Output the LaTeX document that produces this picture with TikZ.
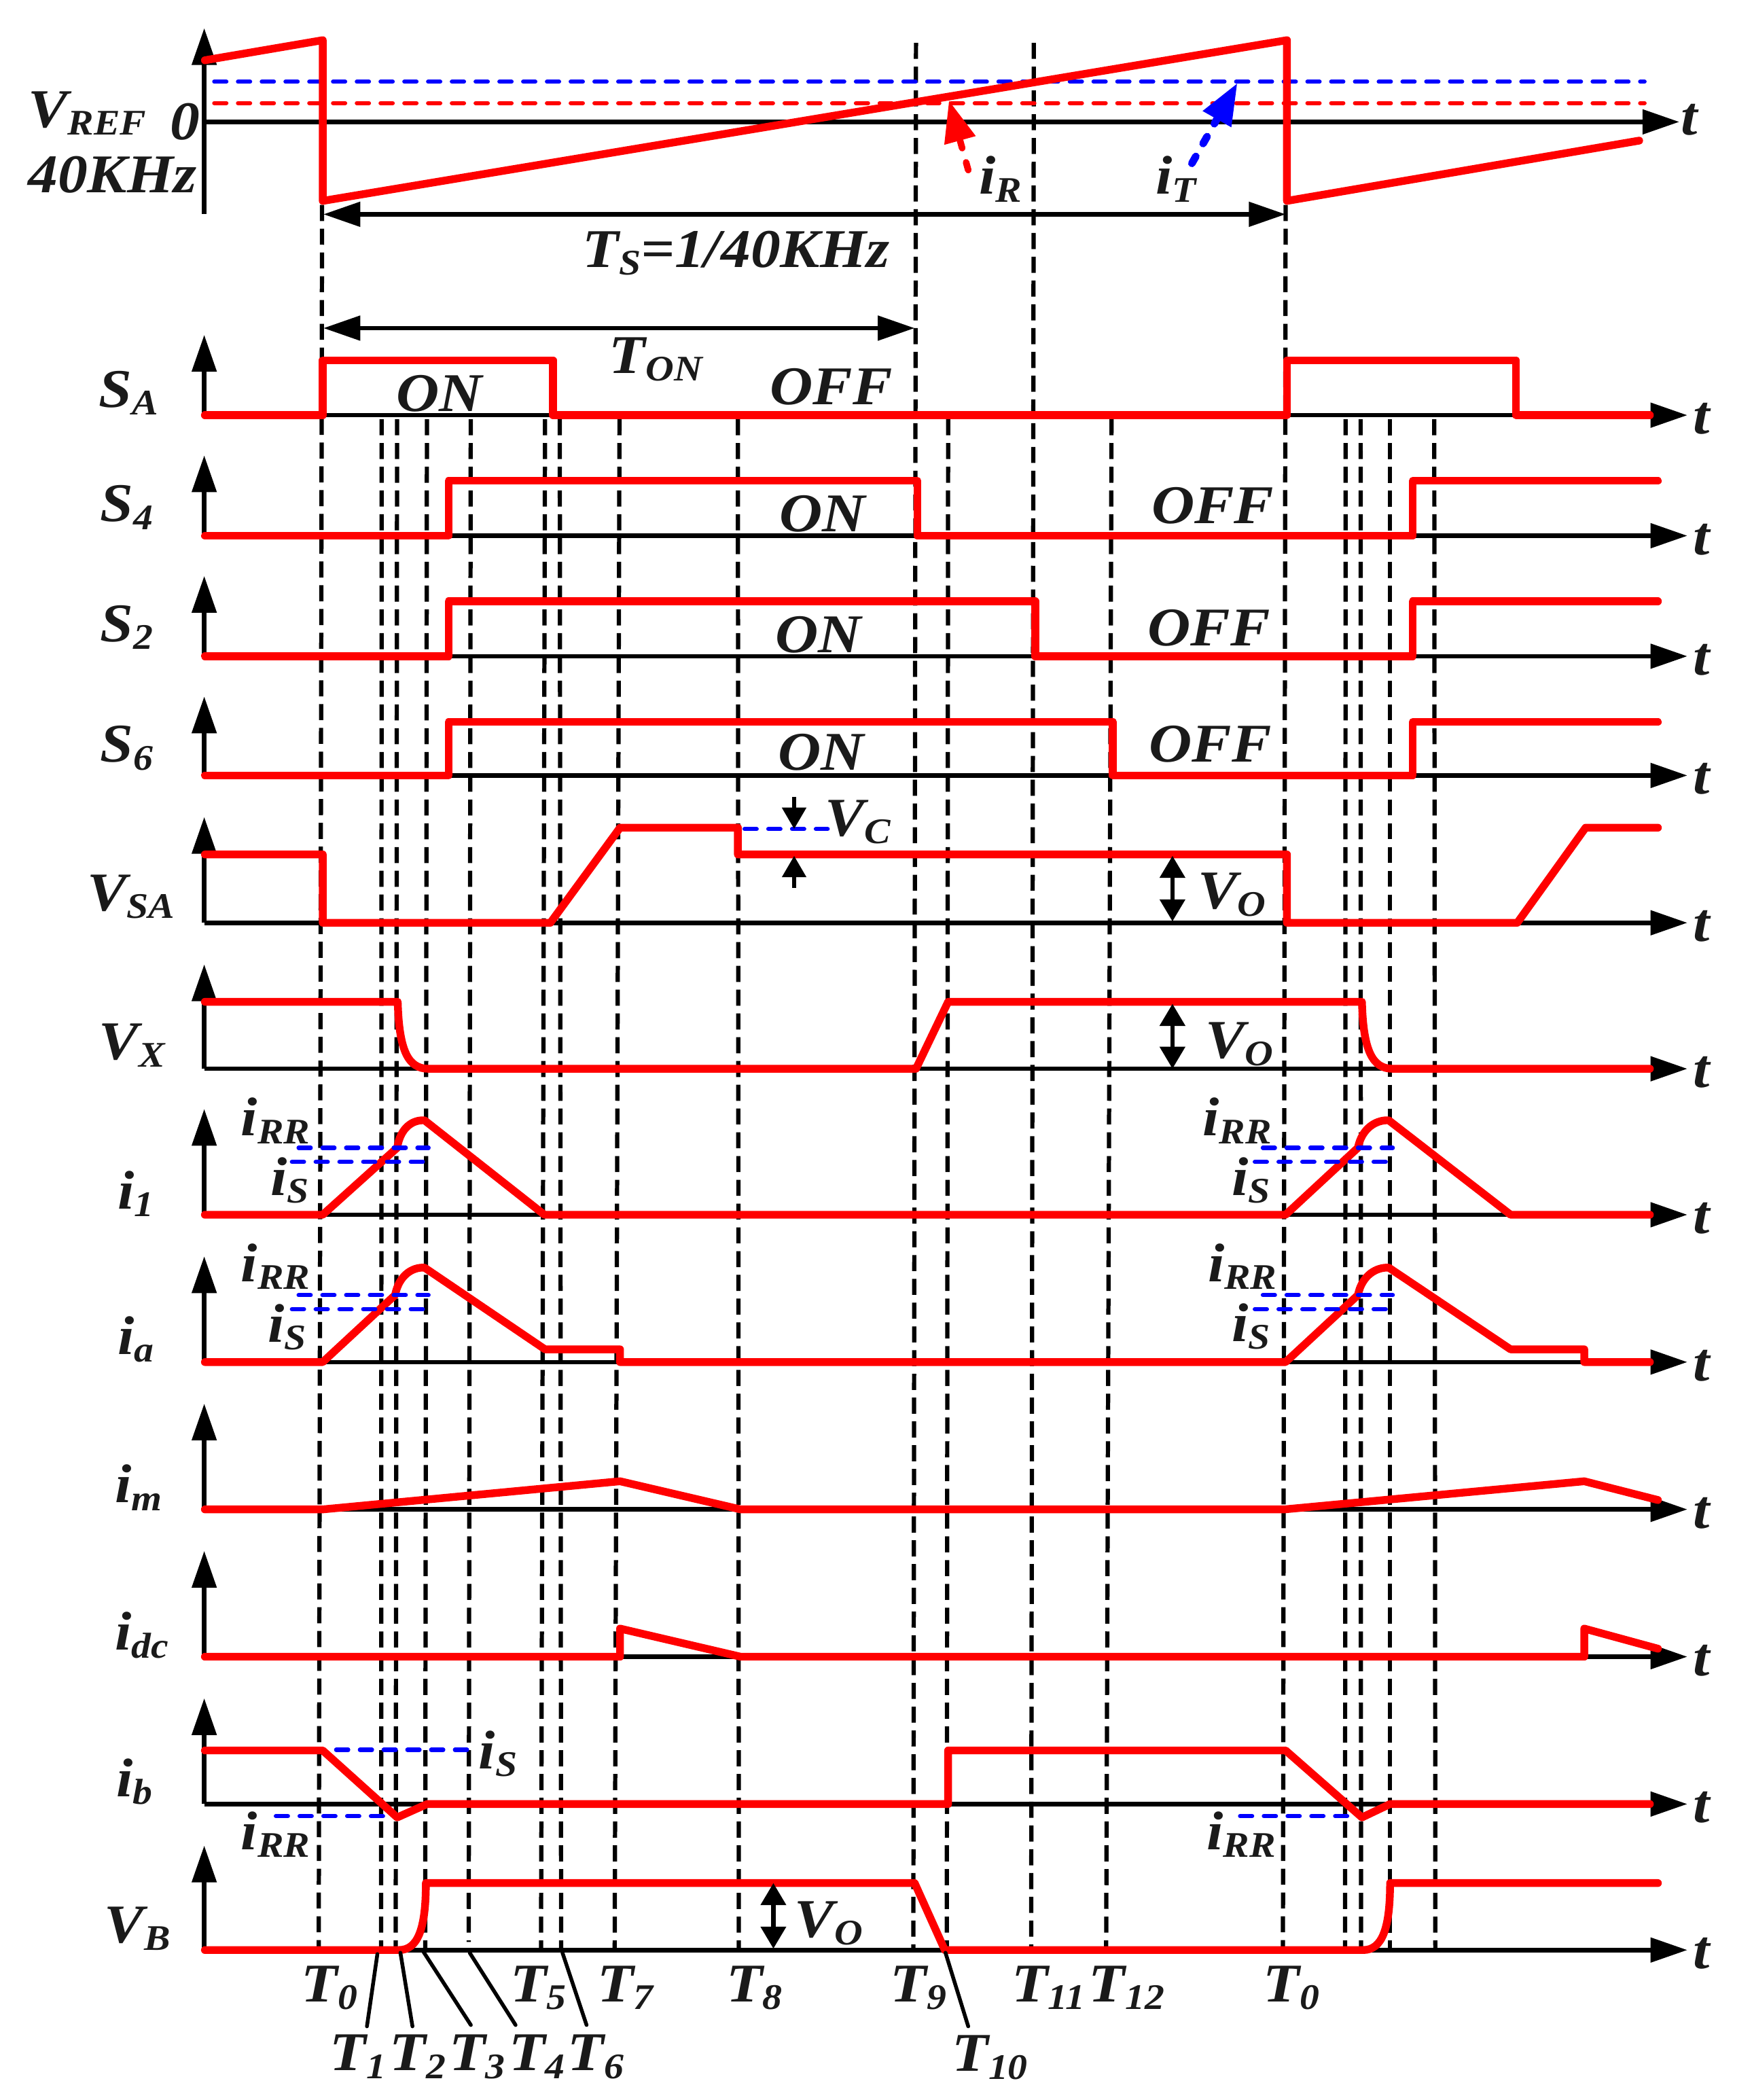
\documentclass[tikz,border=0pt]{standalone}
\usepackage{fontspec}
\setmainfont{Liberation Serif}[FakeStretch=1.09]
\usetikzlibrary{arrows.meta}
\definecolor{ink}{HTML}{1A1A1A}
\newcommand\bigf{\fontsize{23.2}{26}\selectfont}
\newcommand\subf{\fontsize{15.3}{18}\selectfont}
\newcommand\Sb[2]{#1\raisebox{-3.3pt}{\subf #2}}
\newcommand\lab[3]{\node[lbl] (#1) at (#2) {#3};}
\tikzset{
  lbl/.style={anchor=base west,inner sep=0pt,outer sep=0pt,text=ink,font=\bigf\bfseries\itshape},
  grid/.style={black,line width=1.8pt,dash pattern=on 0.24cm off 0.115cm},
  axisline/.style={black,line width=1.9pt},
  headx/.style={-{Triangle[length=0.55cm,width=0.36cm]}},
  wave/.style={red,line width=3.3pt,line join=round,line cap=round},
  bluedash/.style={blue,line width=1.8pt,line cap=round,dash pattern=on 0.18cm off 0.175cm},
  reddash/.style={red,line width=1.8pt,line cap=round,dash pattern=on 0.18cm off 0.175cm},
  markdash/.style={blue,line width=1.8pt,line cap=round,dash pattern=on 0.18cm off 0.175cm},
  leader/.style={black,line width=1.6pt,line cap=round},
  dim/.style={black,line width=1.9pt,{Triangle[length=0.55cm,width=0.36cm]}-{Triangle[length=0.55cm,width=0.36cm]}},
  vo/.style={black,line width=1.9pt,{Triangle[length=0.33cm,width=0.37cm]}-{Triangle[length=0.33cm,width=0.37cm]}},
  vc/.style={black,line width=1.9pt,-{Triangle[length=0.32cm,width=0.35cm]}}
}
\begin{document}
\begin{tikzpicture}[x=0.02cm,y=-0.02cm]
\useasboundingbox (0,0) rectangle (1308,1568);
% vertical timing lines
\foreach \xa/\ya/\xb/\yb in {240.5/153/238/1455,285/313/284.6/1455,296.5/313/295.5/1455,318.8/313/317.5/1455,351.5/313/350/1450,407/313/404/1455,418/313/419/1455,462.6/313/459/1455,551/313/551.7/1455,684/32/682/1455,772/32/770/1455,708/313/707/1455,830/313/826/1455,960/153/958/1455,1004.8/313/1004.4/1455,1016/313/1016.3/1455,1038/313/1038/1455,1071/313/1071.8/1455}{
  \draw[grid] (\xa,\ya) -- (\xb,\yb);
}
% axes
\foreach \y/\tp in {91/21,310/250,400/340,490/430,579/520,689/610,798/720,907/828,1017/938,1127/1048,1237/1158,1347/1268,1456/1378}{
  \draw[axisline,headx] (152.5,\y) -- (152.5,\tp);
}
\draw[axisline] (152.5,91) -- (152.5,160);
\draw[axisline,headx] (152.5,91) -- (1254,91);
\foreach \y in {310,400,490,579,689,798,907,1017,1127,1237,1347,1456}{
  \draw[axisline,headx] (152.5,\y) -- (1260,\y);
}
% reference levels
\draw[bluedash] (160,61) -- (1228,61);
\draw[reddash] (160,77) -- (1228,77);
% waveforms
\draw[wave] (153,45) -- (241,30) -- (241,150) -- (961,30) -- (961,150) -- (1224,105);
\draw[wave] (153,310) -- (241,310) -- (241,269) -- (413,269) -- (413,310) -- (961,310) -- (961,269) -- (1132,269) -- (1132,310) -- (1232,310);
\draw[wave] (153,400) -- (335,400) -- (335,359) -- (685,359) -- (685,400) -- (1055,400) -- (1055,359) -- (1238,359);
\draw[wave] (153,490) -- (335,490) -- (335,449) -- (773,449) -- (773,490) -- (1055,490) -- (1055,449) -- (1238,449);
\draw[wave] (153,579) -- (335,579) -- (335,539) -- (831,539) -- (831,579) -- (1055,579) -- (1055,539) -- (1238,539);
\draw[wave] (153,638) -- (241,638) -- (241,689) -- (411,689) -- (463,618) -- (551,618) -- (551,638) -- (961,638) -- (961,689) -- (1133,689) -- (1184,618) -- (1238,618);
\draw[wave] (153,748) -- (297,748) .. controls (298,785) and (305,798) .. (320,798) -- (684,798) -- (708,748) -- (1017,748) .. controls (1018,785) and (1025,798) .. (1040,798) -- (1232,798);
\draw[wave] (153,907) -- (241,907) -- (296.6,857) .. controls (299,842) and (308,836) .. (317,836.5) -- (406.5,907) -- (960,907) -- (1014,857) .. controls (1017,842) and (1028,836) .. (1037,836.5) -- (1128,907) -- (1232,907);
\draw[wave] (153,1017) -- (241,1017) -- (295,967) .. controls (298,952) and (308,946) .. (317,946.5) -- (407,1007.5) -- (463,1007.5) -- (463,1017) -- (960,1017) -- (1014,967) .. controls (1017,952) and (1028,946) .. (1037,946.5) -- (1128,1007.5) -- (1183,1007.5) -- (1183,1017) -- (1232,1017);
\draw[wave] (153,1127) -- (241,1127) -- (463,1106) -- (553,1127) -- (959,1127) -- (1183,1106) -- (1238,1120);
\draw[wave] (153,1237) -- (463,1237) -- (463,1216) -- (553,1237) -- (1183,1237) -- (1183,1216) -- (1238,1231);
\draw[wave] (153,1307) -- (241,1307) -- (296.6,1357) -- (319,1347) -- (708,1347) -- (708,1307) -- (960,1307) -- (1017,1357) -- (1038,1347) -- (1232,1347);
\draw[wave] (153,1456) -- (298,1456) .. controls (312,1456) and (318,1440) .. (318,1406) -- (683,1406) -- (705.5,1456) -- (1018,1456) .. controls (1032,1456) and (1038,1440) .. (1038,1406) -- (1238,1406);
% blue level marks
\draw[markdash] (223,857) -- (320,857);
\draw[markdash] (218,867.5) -- (318,867.5);
\draw[markdash] (943,857) -- (1040,857);
\draw[markdash] (937,867.5) -- (1038,867.5);
\draw[markdash] (223,967) -- (320,967);
\draw[markdash] (218,977.5) -- (318,977.5);
\draw[markdash] (943,967) -- (1040,967);
\draw[markdash] (937,977.5) -- (1038,977.5);
\draw[markdash] (251,1306.5) -- (352,1306.5);
\draw[markdash] (206,1356) -- (290,1356);
\draw[markdash] (926,1356) -- (1012,1356);
\draw[markdash] (556,619) -- (618,619);
% crossing arrows
\draw[red,line width=2.8pt,line cap=round,dash pattern=on 0.12cm off 0.22cm,-{Triangle[length=0.62cm,width=0.46cm]}] (723,127) -- (708.6,75);
\draw[blue,line width=3.2pt,line cap=round,dash pattern=on 0.12cm off 0.22cm,-{Triangle[length=0.62cm,width=0.46cm]}] (890,122) -- (924,62);
% dimensions
\draw[dim] (241.5,160) -- (960,160);
\draw[dim] (241.5,245) -- (683,245);
\draw[vc] (593,595) -- (593,619);
\draw[vc] (593,663) -- (593,639);
\draw[vo] (875.5,639) -- (875.5,688);
\draw[vo] (875.5,749.5) -- (875.5,798);
\draw[vo] (577.5,1406) -- (577.5,1455);
% leaders
\draw[leader] (281.8,1459) -- (274,1513);
\draw[leader] (299,1458) -- (308,1513);
\draw[leader] (316,1457) -- (351.6,1512);
\draw[leader] (350.7,1458) -- (385,1512);
\draw[leader] (420,1458) -- (438,1512);
\draw[leader] (706,1458) -- (723,1513);
% labels
\lab{vref}{21,95}{\Sb{V}{REF}}
\lab{zero}{127,104}{0}
\node[lbl,font=\fontsize{23.2}{26}\selectfont\bfseries\itshape] (khz) at (21,144) {40KHz};
\lab{ts}{435,199.5}{\Sb{T}{S}=1/40KHz}
\lab{ton}{455,278.5}{\Sb{T}{ON}}
\lab{sa}{74,304}{\Sb{S}{A}}
\lab{sfour}{75,389.5}{\Sb{S}{4}}
\lab{stwo}{75,479}{\Sb{S}{2}}
\lab{ssix}{75,569}{\Sb{S}{6}}
\lab{vsa}{65,680}{\Sb{V}{SA}}
\lab{vx}{74,791}{\Sb{V}{X}}
\lab{ione}{88,902.5}{\Sb{i}{1}}
\lab{ia}{88,1011}{\Sb{i}{a}}
\lab{im}{86,1122}{\Sb{i}{m}}
\lab{idc}{86,1232}{\Sb{i}{dc}}
\lab{ib}{87,1341.5}{\Sb{i}{b}}
\lab{vb}{78,1450.5}{\Sb{V}{B}}
\lab{onA}{296,307}{ON}
\lab{offA}{575,302}{OFF}
\lab{onB}{582,397}{ON}
\lab{offB}{860,391}{OFF}
\lab{onC}{579,487}{ON}
\lab{offC}{857,482}{OFF}
\lab{onD}{581,575}{ON}
\lab{offD}{858,569}{OFF}
\lab{vc}{616,624}{\Sb{V}{C}}
\lab{voA}{894.5,678.5}{\Sb{V}{O}}
\lab{voB}{900,790}{\Sb{V}{O}}
\lab{voC}{593.5,1446.5}{\Sb{V}{O}}
\lab{ir}{731,145}{\Sb{i}{R}}
\lab{it}{863,145}{\Sb{i}{T}}
\lab{irrA}{180,848}{\Sb{i}{RR}}
\lab{isA}{202,892.5}{\Sb{i}{S}}
\lab{irrB}{898,848}{\Sb{i}{RR}}
\lab{isB}{920,892.5}{\Sb{i}{S}}
\lab{irrC}{180,957}{\Sb{i}{RR}}
\lab{isC}{200,1002}{\Sb{i}{S}}
\lab{irrD}{902,957}{\Sb{i}{RR}}
\lab{isD}{920,1001.5}{\Sb{i}{S}}
\lab{isE}{357.5,1320.5}{\Sb{i}{S}}
\lab{irrE}{180,1381}{\Sb{i}{RR}}
\lab{irrF}{901,1381}{\Sb{i}{RR}}
\lab{tA}{1255,100.5}{t}
\foreach \n/\y in {a/324,b/414,c/504,d/593,e/703,f/812,g/921,h/1031,j/1141,k/1251,l/1361,m/1470}{
  \lab{t\n}{1264.5,\y}{t}
}
\lab{tz}{225,1494.5}{\Sb{T}{0}}
\lab{tfive}{381,1494.5}{\Sb{T}{5}}
\lab{tseven}{446,1494.5}{\Sb{T}{7}}
\lab{teight}{542.5,1494.5}{\Sb{T}{8}}
\lab{tnine}{665,1494.5}{\Sb{T}{9}}
\lab{televen}{755.5,1494.5}{\Sb{T}{11}}
\lab{ttwelve}{813,1494.5}{\Sb{T}{12}}
\lab{tzz}{943.5,1494.5}{\Sb{T}{0}}
\lab{tone}{246.5,1546}{\Sb{T}{1}}
\lab{ttwo}{291,1546}{\Sb{T}{2}}
\lab{tthree}{335.5,1546}{\Sb{T}{3}}
\lab{tfour}{380,1546}{\Sb{T}{4}}
\lab{tsix}{424,1546}{\Sb{T}{6}}
\lab{tten}{711,1546.5}{\Sb{T}{10}}
\end{tikzpicture}
\end{document}
